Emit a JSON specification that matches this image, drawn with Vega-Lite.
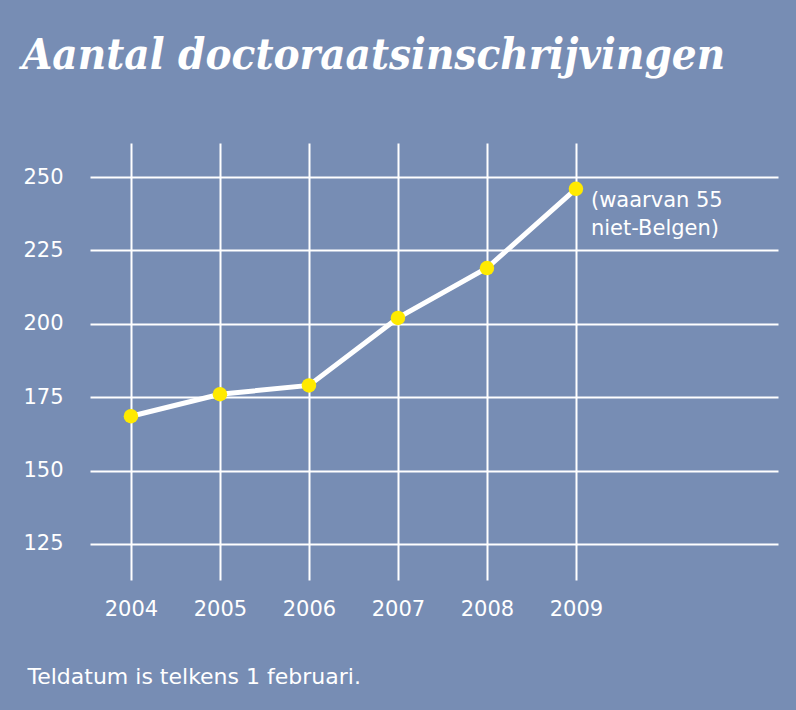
{
  "$schema": "https://vega.github.io/schema/vega-lite/v6.json",
  "width": 688,
  "height": 437,
  "autosize": {"type": "none"},
  "padding": {"left": 90, "top": 143, "right": 18, "bottom": 130},
  "background": "#778db4",
  "title": {
    "text": "Aantal doctoraatsinschrijvingen",
    "anchor": "start",
    "frame": "group",
    "dx": -68,
    "offset": 31,
    "baseline": "alphabetic",
    "font": "DejaVu Serif Condensed",
    "fontSize": 43.5,
    "fontWeight": "bold",
    "fontStyle": "italic",
    "color": "white"
  },
  "config": {
    "view": {"stroke": null},
    "axis": {
      "domain": false,
      "ticks": false,
      "gridColor": "white",
      "gridWidth": 2,
      "gridOpacity": 1,
      "labelColor": "white",
      "labelFont": "DejaVu Sans",
      "labelFontSize": 21
    }
  },
  "data": {
    "values": [
      {"year": 2004, "count": 168.5},
      {"year": 2005, "count": 176},
      {"year": 2006, "count": 179},
      {"year": 2007, "count": 202},
      {"year": 2008, "count": 219},
      {"year": 2009, "count": 246}
    ]
  },
  "encoding": {
    "x": {
      "field": "year",
      "type": "quantitative",
      "scale": {"domain": [2003.54, 2011.27], "nice": false, "zero": false},
      "axis": {
        "values": [2004, 2005, 2006, 2007, 2008, 2009],
        "format": "d",
        "labelPadding": 18,
        "labelBaseline": "top",
        "title": "Teldatum is telkens 1 februari.",
        "titleColor": "white",
        "titleFont": "DejaVu Sans",
        "titleFontSize": 22,
        "titleFontWeight": "normal",
        "titleAnchor": "start",
        "titleAlign": "left",
        "titleBaseline": "alphabetic",
        "titleX": -63,
        "titleY": 103
      }
    },
    "y": {
      "field": "count",
      "type": "quantitative",
      "scale": {"domain": [112.7, 261.6], "nice": false, "zero": false},
      "axis": {
        "values": [125, 150, 175, 200, 225, 250],
        "labelPadding": 27,
        "title": null
      }
    }
  },
  "layer": [
    {"mark": {"type": "line", "color": "white", "strokeWidth": 5}},
    {"mark": {"type": "point", "filled": true, "color": "#ffea00", "opacity": 1, "size": 210}},
    {
      "transform": [{"filter": "datum.year == 2009"}],
      "mark": {
        "type": "text",
        "text": ["(waarvan 55", "niet-Belgen)"],
        "align": "left",
        "baseline": "top",
        "dx": 15,
        "dy": 1,
        "lineHeight": 28,
        "font": "DejaVu Sans",
        "fontSize": 21,
        "color": "white"
      }
    }
  ]
}
